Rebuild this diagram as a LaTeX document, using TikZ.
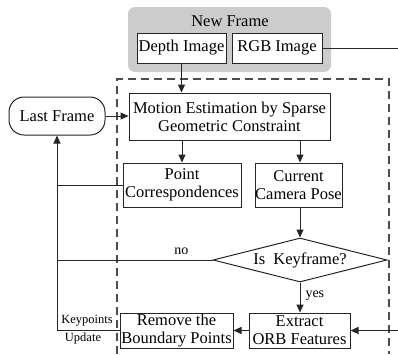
\documentclass[tikz,border=0pt]{standalone}
\usepackage{fontspec}
\setmainfont{Liberation Serif}
\usetikzlibrary{shapes.geometric,arrows.meta}
\begin{document}
\begin{tikzpicture}[x=1pt,y=-1pt,
  box/.style={draw=black!85, line width=1pt, fill=white, inner sep=0pt, align=center,
    font=\fontsize{16.5}{18}\selectfont},
  arr/.style={line width=1pt, draw=black!85, -{Triangle[length=8pt,width=7pt]}},
  ln/.style={line width=1pt, draw=black!85},
  dashbox/.style={line width=1.2pt, draw=black!70, dash pattern=on 8pt off 5pt},
  small/.style={font=\fontsize{12.5}{14}\selectfont, inner sep=0pt},
  lab/.style={font=\fontsize{14}{15}\selectfont, inner sep=0pt}
]
\useasboundingbox (0,0) rectangle (398,354);
% dashed frame (bottom is cut off)
\coordinate (dbl) at (117,354);
\coordinate (dtl) at (117,79);
\coordinate (dtr) at (389,79);
\coordinate (dbr) at (389,354);
\draw[dashbox] (dbl) -- (dtl) -- (dtr) -- (dbr);
% new frame group
\node[fill=black!20, rounded corners=7pt, minimum width=203, minimum height=65, inner sep=0pt] (nf) at (229.5,39.5) {};
\node[font=\fontsize{16.5}{18}\selectfont, inner sep=0pt] (nft) at (230,21) {New Frame};
\node[box, minimum width=89, minimum height=30] (depth) at (181.5,48) {Depth Image};
\node[box, minimum width=90, minimum height=30] (rgb) at (277,48) {RGB Image};
% main nodes
\node[box, minimum width=201, minimum height=47] (motion) at (229.5,116.5) {Motion Estimation by Sparse\\Geometric Constraint};
\node[box, rounded corners=15pt, minimum width=96, minimum height=38] (last) at (57,116) {Last Frame};
\node[box, minimum width=118, minimum height=44] (point) at (182,185) {Point\\Correspondences};
\node[box, minimum width=87, minimum height=44] (pose) at (298.5,185) {Current\\Camera Pose};
\node[box, diamond, shape aspect=3.95, minimum width=174, minimum height=44] (kf) at (300,260) {Is~ Keyframe?};
\node[box, minimum width=101, minimum height=35] (orb) at (299.5,330.5) {Extract\\ORB Features};
\node[box, minimum width=113, minimum height=35] (rem) at (176.5,330.5) {Remove the\\Boundary Points};
% edge coordinates
\coordinate (rgbend) at (398,48);
\coordinate (orbin) at (398,330.5);
% connectors
\draw[ln] (rgb.east) -- (rgbend);
\draw[arr] (depth.south) -- (depth.south |- motion.north);
\draw[arr] (last.east) -- (motion.west |- last.east);
\draw[arr] (point.north |- motion.south) -- (point.north);
\draw[arr] (pose.north -| 300,0) ++(0,-23) -- (pose.north -| 300,0);
\draw[ln] (point.west) -- (last.south |- point.west);
\draw[arr] (pose.south -| kf.north) -- (kf.north);
\draw[ln] (kf.west) -- node[lab, above=5pt, pos=0.2] (no) {no} (last.south |- kf.west);
\draw[arr] (kf.south) -- node[lab, right=5pt, pos=0.45] (yes) {yes} (orb.north -| kf.south);
\draw[arr] (orbin) -- (orb.east);
\draw[arr] (orb.west) -- (rem.east);
\draw[arr] (rem.west) -| (last.south);
\node[small, anchor=east] (kp) at (113,321) {Keypoints};
\node[small] (upd) at (83,338) {Update};
\end{tikzpicture}
\end{document}
